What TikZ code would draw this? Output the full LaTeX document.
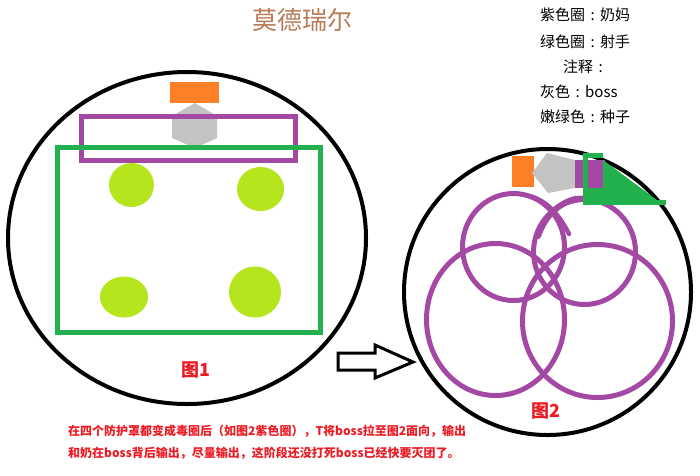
\documentclass[tikz,border=0pt]{standalone}
\usepackage{fontspec}
\newfontfamily\cjk{Noto Sans CJK SC}
\newcommand\kolon{\makebox[1em]{:}}
\definecolor{lila}{HTML}{A349A4}
\definecolor{skov}{HTML}{22B14C}
\definecolor{lime}{HTML}{B5E61D}
\definecolor{appelsin}{HTML}{FF7F27}
\definecolor{graa}{HTML}{C3C3C3}
\definecolor{roed}{HTML}{ED1C24}
\definecolor{brun}{HTML}{B97A57}

\begin{document}
\begin{tikzpicture}[x=1pt,y=-1pt,
  ring/.style={draw=black,line width=4pt},
  healer/.style={draw=lila,line width=5pt},
  archer/.style={draw=skov,line width=5pt},
  seed/.style={fill=lime},
  legtxt/.style={font=\cjk\fontsize{15}{18}\selectfont,anchor=west,inner sep=0pt},
  redtxt/.style={font=\cjk\bfseries\fontsize{12}{14}\selectfont,text=roed,anchor=west,inner sep=0pt},
  figtxt/.style={font=\cjk\bfseries\fontsize{18}{20}\selectfont,text=roed,inner sep=0pt}]

  \useasboundingbox (0,0) rectangle (700,475);

  %titel og noter
	\node[font=\cjk\fontsize{25}{28}\selectfont,text=brun] (titel) at (302,20) {莫德瑞尔};
	\node[legtxt] (leg1) at (540,15) {紫色圈\kolon 奶妈};
	\node[legtxt] (leg2) at (540,42) {绿色圈\kolon 射手};
	\node[legtxt] (leg3) at (563,67) {注释\kolon};
	\node[legtxt] (leg4) at (540,92) {灰色\kolon boss};
	\node[legtxt] (leg5) at (540,117) {嫩绿色\kolon 种子};

  %figur 1
	\draw[ring] (187,238) ellipse [x radius=179, y radius=166];
	\fill[appelsin] (170,82) rectangle (219,103);
	\fill[graa] (195,103) -- (217,116) -- (217,138) -- (195,148) -- (172,138) -- (172,116) -- cycle;
	\draw[healer] (81.5,116.5) rectangle (295.5,160.5);
	\draw[archer] (57.5,147.5) rectangle (320.5,332.5);
	\fill[seed] (131.5,185) ellipse [x radius=22.5, y radius=22];
	\fill[seed] (260.5,189) ellipse [x radius=23.5, y radius=22];
	\fill[seed] (124,297) ellipse [x radius=24, y radius=20.5];
	\fill[seed] (255,292) ellipse [x radius=26, y radius=25.5];
	\node[figtxt] (fig1) at (196,370) {图1};

  %pil
	\draw[line width=3pt,line join=miter] (338,353) -- (375,353) -- (375,345) -- (413,362) -- (375,378) -- (375,370) -- (338,370) -- cycle;

  %figur 2
	\draw[ring] (547.5,292) ellipse [x radius=143.5, y radius=143];
	\draw[healer] (513.5,247) ellipse [x radius=51, y radius=53.5];
	\draw[healer] (584.5,252) ellipse [x radius=51, y radius=52.5];
	\draw[healer] (495.5,319.5) ellipse [x radius=69, y radius=76];
	\draw[healer] (597.5,321) ellipse [x radius=75, y radius=76.5];
	% boss trukket rundt
	\draw[lila,line width=6pt,line cap=round] (590,198) -- (575,199) .. controls (560,203) and (546,214) .. (538,236);
	\draw[lila,line width=4.5pt,line cap=round] (529,196) .. controls (546,200) and (559,214) .. (569,234);
	\fill[appelsin] (512,156) rectangle (534,187);
	\fill[graa] (532,173) -- (547,153) -- (575,160) -- (575,188) -- (548,193) -- cycle;
	\fill[lila] (575,160) rectangle (605,188);
	\fill[skov] (603,160) -- (657,200) -- (588,200) -- (588,188) -- (603,188) -- cycle;
	\draw[archer,line join=miter] (603,155) -- (585.5,155) -- (585.5,202) -- (666,202);
	\node[figtxt] (fig2) at (546,411) {图2};

  %forklaring
	\node[redtxt] (tekst1) at (68,431) {在四个防护罩都变成毒圈后（如图2紫色圈），T将boss拉至图2面向，输出};
	\node[redtxt] (tekst2) at (68,453) {和奶在boss背后输出，尽量输出，这阶段还没打死boss已经快要灭团了。};

\end{tikzpicture}
\end{document}
